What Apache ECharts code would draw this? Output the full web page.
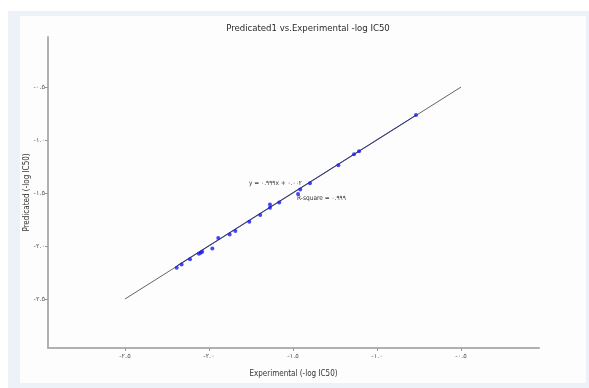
<!DOCTYPE html>
<html>
<head>
<meta charset="utf-8">
<script src="https://cdn.jsdelivr.net/npm/echarts@6/dist/echarts.min.js"></script>
<style>
html,body{margin:0;padding:0;background:#fff;}
#c{width:589px;height:388px;}
</style>
</head>
<body>
<div id="c"></div>
<script>
// Data
var experimental = [-2.192,-2.163,-2.113,-2.060,-2.049,-2.040,-1.980,-1.945,-1.877,-1.843,-1.760,-1.695,-1.637,-1.637,-1.582,-1.470,-1.457,-1.399,-1.230,-1.137,-1.107,-0.768];
var predicted    = [-2.206,-2.175,-2.124,-2.073,-2.064,-2.055,-2.023,-1.925,-1.891,-1.858,-1.770,-1.707,-1.609,-1.640,-1.590,-1.508,-1.467,-1.407,-1.239,-1.135,-1.107,-0.765];
var refLineX = [-2.5, -0.5];
var refLineY = [-2.5, -0.5];
var fitLineX = [-2.192, -0.768];
var fitLineY = [-2.188, -0.765];
var tickValues = [-2.5, -2.0, -1.5, -1.0, -0.5];
var tickLabels = ['-۲.۵', '-۲.۰', '-۱.۵', '-۱.۰', '-۰.۵'];
var titleText = 'Predicated1 vs.Experimental -log IC50';
var xName = 'Experimental (-log IC50)';
var yName = 'Predicated (-log IC50)';
var equationText = 'y = ۰.۹۹۹x + ۰.۰۰۲';
var rsqText = 'R-square = ۰.۹۹۹';

function labelFor(v){
  for (var i=0;i<tickValues.length;i++){ if (Math.abs(tickValues[i]-v)<1e-6) return tickLabels[i]; }
  return '';
}
var points = experimental.map(function(x,i){return [x, predicted[i]];});
var refLine = refLineX.map(function(x,i){return [x, refLineY[i]];});
var fitLine = fitLineX.map(function(x,i){return [x, fitLineY[i]];});

var chart = echarts.init(document.getElementById('c'), null, {renderer:'canvas'});
var smallFont = '"DejaVu Sans", sans-serif';
var narrowFont = '"Liberation Sans Narrow", "DejaVu Sans Condensed", "DejaVu Sans", sans-serif';
var axisCommon = {
  type:'value',
  splitLine:{show:false},
  axisLine:{show:true, lineStyle:{color:'#b0b0b0', width:2}},
  axisTick:{show:true, length:3, lineStyle:{color:'#999', width:1}, customValues: tickValues},
  axisLabel:{show:true, fontSize:6.5, color:'#555', fontFamily: smallFont, customValues: tickValues,
    formatter:function(v){return labelFor(v);}}
};
chart.setOption({
  animation:false,
  backgroundColor:'#ffffff',
  title:{text:titleText, left:303, top:19, textAlign:'center',
    textStyle:{fontSize:9.5, fontWeight:'normal', color:'#2a2a2a', fontFamily:narrowFont}},
  graphic:[
    {type:'rect', z:-10, silent:true, shape:{x:8,y:11,width:581,height:377}, style:{fill:'#edf2f9'}},
    {type:'rect', z:-9, silent:true, shape:{x:20,y:16,width:566,height:367}, style:{fill:'#fdfdfe'}},
    {type:'text', z:10, left:249, top:180, style:{text:equationText, fontSize:6.5, fill:'#333', fontFamily:narrowFont}},
    {type:'text', z:10, left:297, top:195, style:{text:rsqText, fontSize:6.5, fill:'#333', fontFamily:narrowFont}}
  ],
  grid:{left:48, right:50, top:37, bottom:40, containLabel:false},
  xAxis: Object.assign({}, axisCommon, {
    min:-2.958, max:-0.036,
    name:xName, nameLocation:'middle', nameGap:22, nameMoveOverlap:false,
    nameTextStyle:{fontSize:8, color:'#333', fontFamily:narrowFont},
    axisLabel: Object.assign({}, axisCommon.axisLabel, {margin:5})
  }),
  yAxis: Object.assign({}, axisCommon, {
    min:-2.962, max:-0.028,
    name:yName, nameLocation:'middle', nameGap:17, nameRotate:90, nameMoveOverlap:false,
    nameTextStyle:{fontSize:8, color:'#333', fontFamily:narrowFont},
    axisLabel: Object.assign({}, axisCommon.axisLabel, {margin:3})
  }),
  series:[
    {type:'line', data:refLine, symbol:'none', lineStyle:{color:'#666', width:1}, z:2},
    {type:'line', data:fitLine, symbol:'none', lineStyle:{color:'#343880', width:1}, z:3},
    {type:'scatter', data:points, symbolSize:4, itemStyle:{color:'#1a1aee'}, z:4}
  ]
});
</script>
</body>
</html>
